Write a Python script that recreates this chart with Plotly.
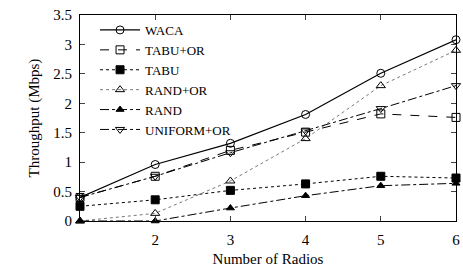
import plotly.graph_objects as go

radios = [1, 2, 3, 4, 5, 6]
waca = [0.40, 0.96, 1.32, 1.81, 2.51, 3.08]
tabu_or = [0.40, 0.76, 1.20, 1.51, 1.82, 1.76]
tabu = [0.25, 0.36, 0.52, 0.63, 0.76, 0.73]
rand_or = [0.00, 0.13, 0.68, 1.40, 2.30, 2.90]
rand = [0.00, 0.00, 0.22, 0.43, 0.60, 0.64]
uniform_or = [0.40, 0.76, 1.16, 1.53, 1.91, 2.30]

series = [
    ("WACA", waca, "solid", "circle-open", 8, "black", 1.2),
    ("TABU+OR", tabu_or, "dash", "square-open", 8, "black", 1.0),
    ("TABU", tabu, "dot", "square", 8, "black", 1.0),
    ("RAND+OR", rand_or, "dot", "triangle-up-open", 8, "#555", 0.8),
    ("RAND", rand, "dashdot", "triangle-up", 7, "black", 1.0),
    ("UNIFORM+OR", uniform_or, "dashdot", "triangle-down-open", 8, "black", 1.0),
]

fig = go.Figure()
for name, vals, dash, sym, size, col, w in series:
    fig.add_trace(go.Scatter(
        x=radios, y=vals, name=name, mode="lines+markers",
        line=dict(color=col, dash=dash, width=w),
        marker=dict(symbol=sym, size=size, color="black",
                    line=dict(color="black", width=1)),
        cliponaxis=False,
    ))

font = "Liberation Serif, Times New Roman, serif"
fig.update_layout(
    width=463, height=271,
    margin=dict(l=80, r=3, t=15, b=50),
    paper_bgcolor="white", plot_bgcolor="white",
    font=dict(family=font, size=15, color="black"),
    legend=dict(x=0.04, y=1.0, xanchor="left", yanchor="top",
                bgcolor="rgba(0,0,0,0)", font=dict(family=font, size=13),
                tracegroupgap=0, itemwidth=40),
    xaxis=dict(range=[1, 6], tickvals=[2, 3, 4, 5, 6], ticks="inside",
               ticklen=5, showline=True, linecolor="black", linewidth=1,
               mirror="ticks", showgrid=False, zeroline=False,
               ticklabelstandoff=5, ticklabeloverflow="allow",
               title=dict(text="Number of Radios", font=dict(family=font, size=15), standoff=6),
               tickfont=dict(family=font, size=15)),
    yaxis=dict(range=[0, 3.5], dtick=0.5, ticks="inside", ticklen=5,
               showline=True, linecolor="black", linewidth=1,
               mirror="ticks", showgrid=False, zeroline=False,
               ticklabelstandoff=4,
               title=dict(text="Throughput (Mbps)", font=dict(family=font, size=15), standoff=10),
               tickfont=dict(family=font, size=15)),
)
fig.write_html("out.html", config={"displayModeBar": False},
               post_script="document.body.style.margin='0';")
